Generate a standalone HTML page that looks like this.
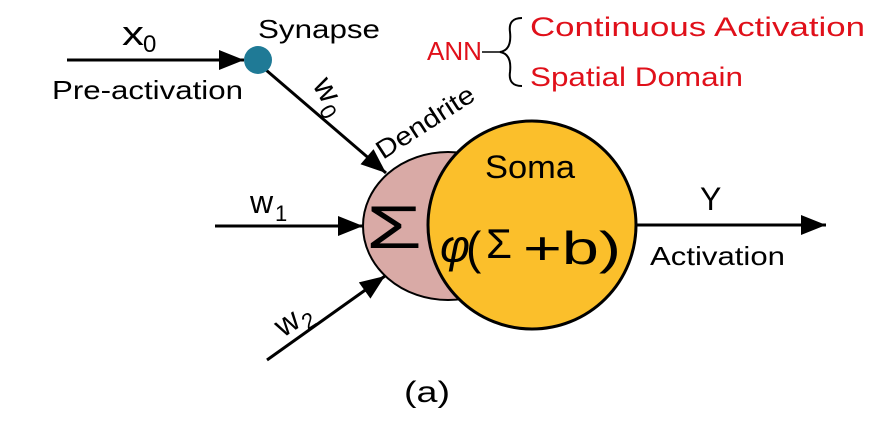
<!DOCTYPE html>
<html><head><style>
body{margin:0;background:#fff}
svg text{font-family:"Liberation Sans",sans-serif}
</style></head><body>
<svg width="886" height="430" viewBox="0 0 886 430" xmlns="http://www.w3.org/2000/svg">
<defs>
<marker id="b" viewBox="0 0 10 8" refX="10" refY="4" markerWidth="26" markerHeight="20" orient="auto" markerUnits="userSpaceOnUse"><path d="M0,0L10,4L0,8z" fill="#000"/></marker></defs>
<g stroke="#000" stroke-width="3" fill="none">
<line x1="67" y1="60" x2="244" y2="60" marker-end="url(#b)"/>
<line x1="266" y1="70" x2="386" y2="173" marker-end="url(#b)"/>
<line x1="215" y1="226" x2="363" y2="226" marker-end="url(#b)"/>
<line x1="267" y1="360" x2="385" y2="276" marker-end="url(#b)"/>
<line x1="637" y1="225" x2="826" y2="225" marker-end="url(#b)"/>
</g>
<circle cx="258" cy="60" r="14" fill="#1f7a96"/>
<ellipse cx="448" cy="226" rx="85" ry="74" fill="#d9aaa6" stroke="#000" stroke-width="2"/>
<circle cx="532" cy="225" r="104" fill="#fbbf2b" stroke="#000" stroke-width="3"/>
<text x="122" y="45" font-size="34" textLength="22" lengthAdjust="spacingAndGlyphs">x</text><text x="143" y="52" font-size="24">0</text>
<text x="258" y="38" font-size="26" textLength="122" lengthAdjust="spacingAndGlyphs">Synapse</text>
<text x="52" y="99" font-size="26" textLength="191" lengthAdjust="spacingAndGlyphs">Pre-activation</text>
<g transform="translate(312,85) rotate(60)"><text x="0" y="0" font-size="32">w</text><text x="25" y="7" font-size="22">0</text></g>
<g transform="translate(383,160) rotate(-33)"><text x="0" y="0" font-size="26" textLength="112" lengthAdjust="spacingAndGlyphs">Dendrite</text></g>
<text x="250" y="213" font-size="32">w</text><text x="275" y="221" font-size="22">1</text>
<g transform="translate(283,338) rotate(-33)"><text x="0" y="0" font-size="32">w</text><text x="25" y="7" font-size="22">2</text></g>
<text x="366" y="248" font-size="60" textLength="56" lengthAdjust="spacingAndGlyphs">Σ</text>
<text x="485" y="178" font-size="32" textLength="90" lengthAdjust="spacingAndGlyphs">Soma</text>
<text x="440" y="262" font-size="46" font-style="italic" font-family="Liberation Serif">φ</text>
<text x="466" y="264" font-size="46">(</text>
<text x="486" y="258" font-size="42">Σ</text>
<text x="523" y="264" font-size="46" textLength="98" lengthAdjust="spacingAndGlyphs">+b)</text>
<text x="700" y="210" font-size="32">Y</text>
<text x="650" y="265" font-size="26" textLength="135" lengthAdjust="spacingAndGlyphs">Activation</text>
<text x="427" y="60" font-size="26" fill="#e0101a" textLength="55" lengthAdjust="spacingAndGlyphs">ANN</text>
<path d="M482,52 H500" stroke="#000" stroke-width="1.5"/>
<path d="M522,18 Q508,18 510,32 Q512,50 500,52 Q512,54 510,72 Q508,86 522,86" stroke="#000" stroke-width="2" fill="none"/>
<text x="530" y="36" font-size="27" fill="#e0101a" textLength="335" lengthAdjust="spacingAndGlyphs">Continuous Activation</text>
<text x="530" y="86" font-size="27" fill="#e0101a" textLength="213" lengthAdjust="spacingAndGlyphs">Spatial Domain</text>
<text x="404" y="402" font-size="30" textLength="46" lengthAdjust="spacingAndGlyphs">(a)</text>
</svg>
</body></html>
